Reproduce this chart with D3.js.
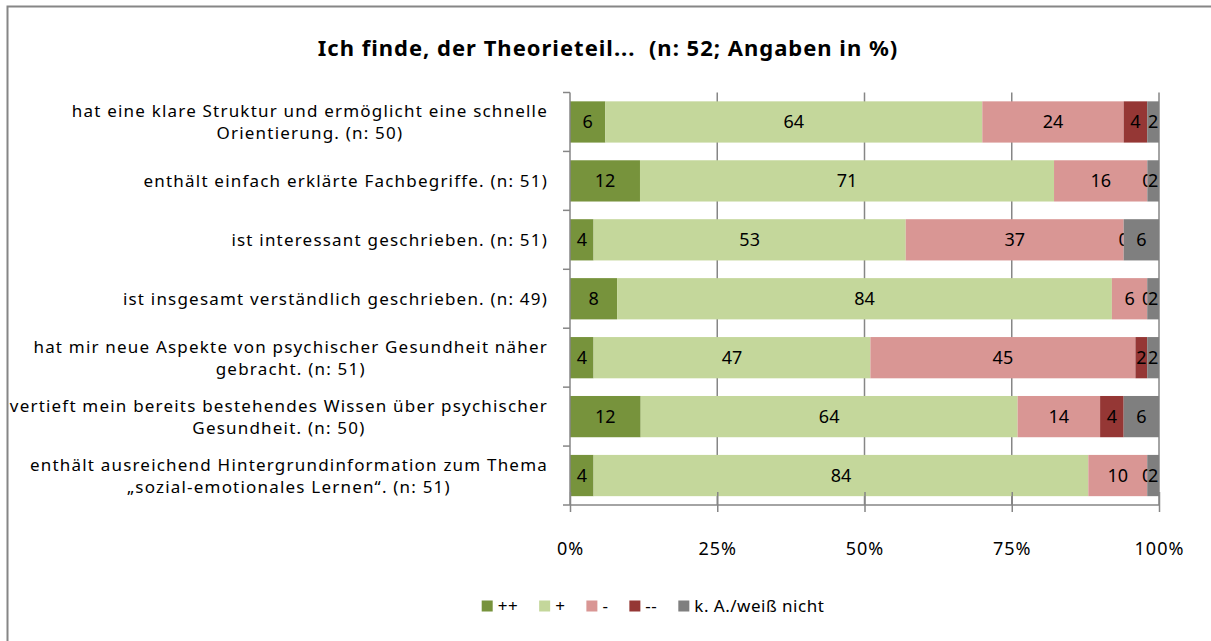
<!DOCTYPE html>
<html>
<head>
<meta charset="utf-8">
<script src="https://cdn.jsdelivr.net/npm/d3@7"></script>
<style>
body{margin:0;background:#fff;overflow:hidden;}
svg{display:block;}
text{font-family:"Noto Sans",sans-serif;fill:#000;}
</style>
</head>
<body>
<svg id="canvas"></svg>
<script>
// data (percent per answer)
let categories=[
  "hat eine klare Struktur und ermöglicht eine schnelle\nOrientierung. (n: 50)",
  "enthält einfach erklärte Fachbegriffe. (n: 51)",
  "ist interessant geschrieben. (n: 51)",
  "ist insgesamt verständlich geschrieben. (n: 49)",
  "hat mir neue Aspekte von psychischer Gesundheit näher\ngebracht. (n: 51)",
  "vertieft mein bereits bestehendes Wissen über psychischer\nGesundheit. (n: 50)",
  "enthält ausreichend Hintergrundinformation zum Thema\n„sozial-emotionales Lernen“. (n: 51)"
];
let seriesNames=["++","+","-","--","k. A./weiß nicht"];
let veryGood=[6,12,4,8,4,12,4];
let good=[64,71,53,84,47,64,84];
let bad=[24,16,37,6,45,14,10];
let veryBad=[4,0,0,0,2,4,0];
let noAnswer=[2,2,6,2,2,6,2];
let xTicks=[0,0.25,0.5,0.75,1];
let titleText="Ich finde, der Theorieteil...  (n: 52; Angaben in %)";

let colors=["#77933C","#C4D79B","#D99694","#953735","#7F7F7F"];

let width=1211;
let height=641;
let plotLeft=570,plotRight=1159,plotTop=92.5,plotBottom=505;

let canvas=d3.select("#canvas")
canvas.attr('width',width)
canvas.attr('height',height)

// chart border (only top and left edges are inside the picture)
canvas.append('path')
    .attr('d','M7.5,'+height+'V6.5H'+width)
    .attr('fill','none')
    .attr('stroke','#868686')
    .attr('stroke-width',2);

let rows=categories.map((c,i)=>({
    cat:c,
    "++":veryGood[i],"+":good[i],"-":bad[i],"--":veryBad[i],"k. A./weiß nicht":noAnswer[i]
}));

let stacked=d3.stack()
    .keys(seriesNames)
    .offset(d3.stackOffsetExpand)(rows);

let xscale=d3.scaleLinear().domain([0,1]).range([plotLeft,plotRight]);
let yscale=d3.scaleBand().domain(categories).range([plotTop,plotBottom]).paddingInner(0.3).paddingOuter(0.15);

// gridlines
canvas.append('g')
    .selectAll('line')
    .data(xTicks.slice(1))
    .enter()
    .append('line')
    .attr('x1',d=>xscale(d)).attr('x2',d=>xscale(d))
    .attr('y1',plotTop).attr('y2',plotBottom)
    .attr('stroke','#868686')
    .attr('stroke-width',1.5);

// bars
let groups=canvas.append('g')
    .selectAll('g')
    .data(stacked)
    .enter()
    .append('g')
    .attr('fill',(d,i)=>colors[i]);

groups.selectAll('rect')
    .data(d=>d)
    .enter()
    .append('rect')
    .attr('x',d=>xscale(d[0]))
    .attr('width',d=>xscale(d[1])-xscale(d[0]))
    .attr('y',d=>yscale(d.data.cat))
    .attr('height',yscale.bandwidth());

// data labels
groups.selectAll('text')
    .data(d=>d.map(p=>({p:p,key:d.key})))
    .enter()
    .append('text')
    .attr('x',d=>xscale((d.p[0]+d.p[1])/2))
    .attr('y',d=>yscale(d.p.data.cat)+yscale.bandwidth()/2)
    .attr('dy','0.36em')
    .attr('text-anchor','middle')
    .style('font-size','18px')
    .style('fill','#000')
    .text(d=>d.p.data[d.key]);

// axes
let xAxis=d3.axisBottom(xscale).tickValues(xTicks).tickFormat(d3.format('.0%')).tickSize(7).tickPadding(30);
let gx=canvas.append('g')
    .attr('transform','translate(0,'+plotBottom+')')
    .call(xAxis);
gx.selectAll('text').style('font-size','18px').style('letter-spacing','1px');

let step=(plotBottom-plotTop)/categories.length;
let bounds=d3.range(categories.length+1).map(i=>plotTop+i*step);
canvas.append('g')
    .selectAll('line')
    .data(bounds)
    .enter()
    .append('line')
    .attr('x1',plotLeft-7).attr('x2',plotLeft)
    .attr('y1',d=>d).attr('y2',d=>d)
    .attr('stroke','#868686').attr('stroke-width',1.5);
canvas.append('line')
    .attr('x1',plotLeft).attr('x2',plotLeft).attr('y1',plotTop).attr('y2',plotBottom)
    .attr('stroke','#868686').attr('stroke-width',1.5);
gx.select('.domain').attr('stroke','#868686').attr('stroke-width',1.5).attr('d','M'+plotLeft+',0H'+plotRight);
gx.selectAll('.tick line').attr('stroke','#868686').attr('stroke-width',1.5).attr('y1',-13);

// category labels
let labelRight=548;
let lineH=22;
categories.forEach(c=>{
    let lines=c.split("\n");
    let cy=yscale(c)+yscale.bandwidth()/2;
    let t=canvas.append('text')
        .style('font-size','17px')
        .style('letter-spacing','1.2px')
        .attr('text-anchor','middle');
    lines.forEach((l,j)=>{
        t.append('tspan').attr('y',cy+(j-(lines.length-1)/2)*lineH).attr('dy','0.36em').text(l);
    });
    let w=d3.max(t.selectAll('tspan').nodes(),n=>n.getComputedTextLength());
    t.selectAll('tspan').attr('x',labelRight-w/2);
});

// title
canvas.append('text')
    .attr('x',608).attr('y',48)
    .attr('dy','0.36em')
    .attr('text-anchor','middle')
    .style('font-size','22px')
    .style('letter-spacing','1px')
    .style('font-weight','bold')
    .style('white-space','pre')
    .text(titleText);

// legend
let legend=canvas.append('g');
let lx=0;
seriesNames.forEach((s,i)=>{
    let g=legend.append('g').attr('transform','translate('+lx+',0)');
    g.append('rect').attr('x',0).attr('y',-5.5).attr('width',11).attr('height',11).attr('fill',colors[i]);
    let t=g.append('text').attr('x',16).attr('dy','0.36em').style('font-size','17px').style('letter-spacing','0.5px').text(s);
    lx+=16+t.node().getComputedTextLength()+21;
});
lx-=21;
legend.attr('transform','translate('+(653-lx/2)+',606)');
</script>
</body>
</html>
